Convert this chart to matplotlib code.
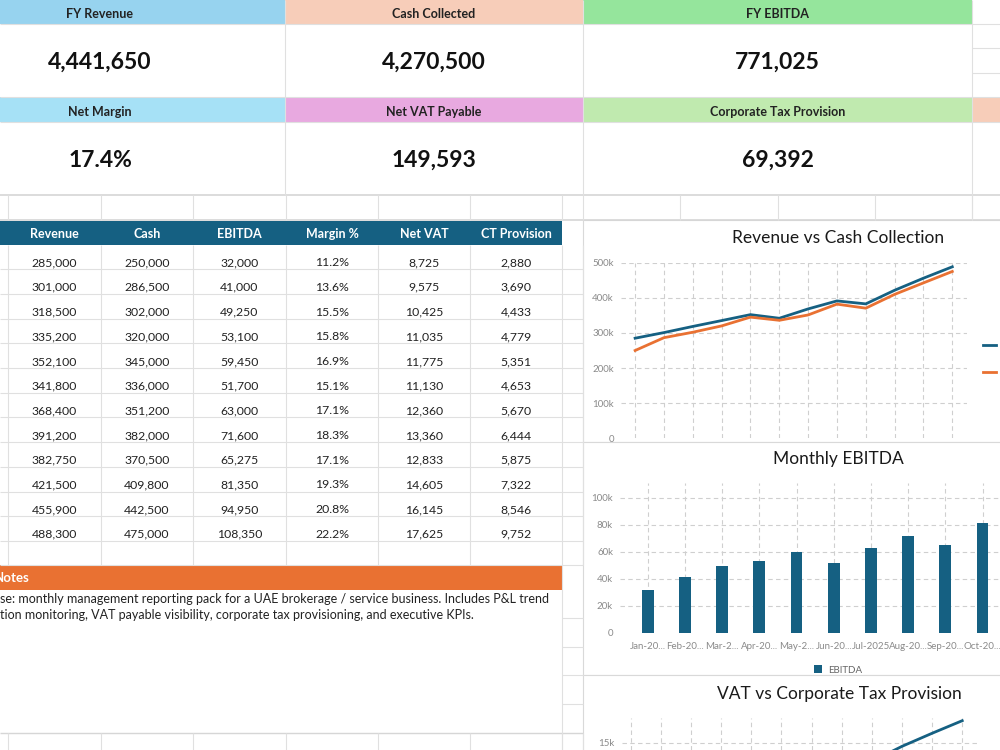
import matplotlib.pyplot as plt
from matplotlib.patches import Rectangle, Patch

plt.rcParams['font.family'] = ['Lato', 'DejaVu Sans']

# ---- data ----
months = ['Jan-2025', 'Feb-2025', 'Mar-2025', 'Apr-2025', 'May-2025', 'Jun-2025',
          'Jul-2025', 'Aug-2025', 'Sep-2025', 'Oct-2025', 'Nov-2025', 'Dec-2025']
month_labels = ['Jan-20...', 'Feb-20...', 'Mar-2...', 'Apr-20...', 'May-2...', 'Jun-20...',
                'Jul-2025', 'Aug-20...', 'Sep-20...', 'Oct-20...', 'Nov-20...', 'Dec-20...']
revenue = [285000, 301000, 318500, 335200, 352100, 341800, 368400, 391200, 382750, 421500, 455900, 488300]
cash = [250000, 286500, 302000, 320000, 345000, 336000, 351200, 382000, 370500, 409800, 442500, 475000]
ebitda = [32000, 41000, 49250, 53100, 59450, 51700, 63000, 71600, 65275, 81350, 94950, 108350]
margin_pct = [11.2, 13.6, 15.5, 15.8, 16.9, 15.1, 17.1, 18.3, 17.1, 19.3, 20.8, 22.2]
net_vat = [8725, 9575, 10425, 11035, 11775, 11130, 12360, 13360, 12833, 14605, 16145, 17625]
ct_provision = [2880, 3690, 4433, 4779, 5351, 4653, 5670, 6444, 5875, 7322, 8546, 9752]

kpi_labels_1 = ['FY Revenue', 'Cash Collected', 'FY EBITDA']
kpi_values_1 = ['4,441,650', '4,270,500', '771,025']
kpi_labels_2 = ['Net Margin', 'Net VAT Payable', 'Corporate Tax Provision']
kpi_values_2 = ['17.4%', '149,593', '69,392']
table_headers = ['Revenue', 'Cash', 'EBITDA', 'Margin %', 'Net VAT', 'CT Provision']
notes_lines = ['se: monthly management reporting pack for a UAE brokerage / service business. Includes P&L trend',
               'tion monitoring, VAT payable visibility, corporate tax provisioning, and executive KPIs.']

W, H = 1000, 750
BLUE = '#156082'
ORANGE = '#E97132'
GRID = '#E0E0E0'
DASH = '#CFCFCF'
TICK = '#8A8A8A'
TXT = '#222222'

fig = plt.figure(figsize=(10, 7.5), dpi=100)
bg = fig.add_axes([0, 0, 1, 1])
bg.set_xlim(0, W)
bg.set_ylim(H, 0)
bg.axis('off')


def box(x0, y0, x1, y1, **kw):
    bg.add_patch(Rectangle((x0, y0), x1 - x0, y1 - y0, **kw))


def px_axes(x0, y0, x1, y1):
    return fig.add_axes([x0 / W, 1 - y1 / H, (x1 - x0) / W, (y1 - y0) / H])


# ---- KPI blocks ----
blocks = [(-85, 285), (285, 583), (583, 972)]
top_colors = ['#97D3EF', '#F7CDB9', '#95E59C']
bot_colors = ['#A6E1F6', '#E8A9E0', '#C0EAAF']
for (x0, x1), c1, c2, l1, v1, l2, v2 in zip(blocks, top_colors, bot_colors,
                                             kpi_labels_1, kpi_values_1, kpi_labels_2, kpi_values_2):
    cx = (x0 + x1) / 2
    box(x0, 0, x1, 24, fc=c1, ec='none')
    box(x0, 97, x1, 122, fc=c2, ec='none')
    bg.text(cx, 13.5, l1, ha='center', va='center', fontsize=9, fontweight='bold', color=TXT)
    bg.text(cx, 62.5, v1, ha='center', va='center', fontsize=16.5, fontweight='bold', color='#111111')
    bg.text(cx, 111.5, l2, ha='center', va='center', fontsize=9, fontweight='bold', color=TXT)
    bg.text(cx, 160.5, v2, ha='center', va='center', fontsize=16.5, fontweight='bold', color='#111111')
box(972, 97, 1000, 122, fc='#F7CDB9', ec='none')

# sheet grid around the KPI area
bg.hlines([24, 97, 122], 0, W, color=GRID, lw=0.8)
bg.hlines([195, 220], 0, W, color='#D6D6D6', lw=1.2)
bg.hlines([48, 72.7], 972, W, color=GRID, lw=0.8)
bg.vlines([285, 583], 0, 195, color=GRID, lw=0.8)
bg.vlines([972], 0, 220, color=GRID, lw=0.8)
bg.vlines([8, 101, 193, 286, 378, 470, 562, 583, 680, 778, 875, 972], 195, 220, color=GRID, lw=0.8)

# ---- monthly table ----
col_edges = [8, 101, 193, 286, 378, 470, 562]
col_centers = [(a + b) / 2 for a, b in zip(col_edges[:-1], col_edges[1:])]
row_top, row_h = 244.5, 24.7
box(0, 221, 562, 245, fc=BLUE, ec='none')
for cx, name in zip(col_centers, table_headers):
    bg.text(cx, 234, name, ha='center', va='center', fontsize=9, fontweight='bold', color='white')

bg.hlines([row_top + (i + 1) * row_h for i in range(len(months))], 0, 583, color=GRID, lw=0.8)
bg.hlines([565], 0, 583, color=GRID, lw=0.8)
bg.vlines(col_edges + [583], 245, 565, color=GRID, lw=0.8)
for i in range(len(months)):
    y = row_top + (i + 1) * row_h - 6.5
    cells = [f'{revenue[i]:,}', f'{cash[i]:,}', f'{ebitda[i]:,}', f'{margin_pct[i]:.1f}%',
             f'{net_vat[i]:,}', f'{ct_provision[i]:,}']
    for cx, s in zip(col_centers, cells):
        bg.text(cx, y, s, ha='center', va='center', fontsize=8.8, color=TXT)

# ---- notes ----
box(0, 565, 562, 589.5, fc=ORANGE, ec='none')
bg.text(-6, 578, 'Notes', ha='left', va='center', fontsize=9.5, fontweight='bold', color='white')
for k, line in enumerate(notes_lines):
    bg.text(0.5, 599 + k * 16, line, ha='left', va='center', fontsize=9, color=TXT)
bg.hlines([733], 0, 583, color='#D6D6D6', lw=1.0)
bg.hlines([618.3, 646.7, 675, 704.3], 562, 583, color=GRID, lw=0.8)
bg.vlines([562], 565, 750, color=GRID, lw=0.8)
bg.vlines(col_edges + [583], 733, 750, color=GRID, lw=0.8)

# ---- chart frames ----
for y0, y1 in [(220, 442), (442, 675), (675, 760)]:
    box(583, y0, 1010, y1, fc='white', ec='#D9D9D9', lw=0.8)


def style_chart(ax, yticks):
    ax.set_facecolor('none')
    for s in ax.spines.values():
        s.set_visible(False)
    ax.set_yticks(yticks)
    ax.set_yticklabels(['0' if v == 0 else f'{int(v / 1000)}k' for v in yticks])
    ax.tick_params(length=0, labelsize=7, labelcolor=TICK, pad=5)
    ax.grid(True, color=DASH, lw=0.8, linestyle=(0, (4, 3)))
    ax.set_axisbelow(True)
    for v, gl in zip(yticks, ax.get_ygridlines()):
        if v == 0:
            gl.set_visible(False)


x = list(range(len(months)))

# Revenue vs Cash Collection
ax1 = px_axes(620.7, 262.7, 966.7, 438.3)
ax1.plot(x, revenue, color=BLUE, lw=2)
ax1.plot(x, cash, color=ORANGE, lw=2)
ax1.set_xticks(x)
ax1.set_xticklabels([])
style_chart(ax1, [0, 100000, 200000, 300000, 400000, 500000])
ax1.set_xlim(-0.5, 11.5)
ax1.set_ylim(0, 500000)
bg.text(838, 238, 'Revenue vs Cash Collection', ha='center', va='center', fontsize=12.5, color='#1a1a1a')
bg.plot([983, 996], [345, 345], color=BLUE, lw=2)
bg.plot([983, 996], [371.7, 371.7], color=ORANGE, lw=2)

# Monthly EBITDA (chart runs past the right edge of the window)
ax2 = px_axes(620, 483, 1000, 632.7)
ax2.bar(x, ebitda, width=0.32, color=BLUE)
x2_max = 9.47
shown = [i for i in x if i <= x2_max]
ax2.set_xticks(shown)
ax2.set_xticklabels([month_labels[i] for i in shown])
style_chart(ax2, [0, 20000, 40000, 60000, 80000, 100000])
ax2.tick_params(axis='x', pad=7)
ax2.set_xlim(-0.745, x2_max)
ax2.set_ylim(0, 110900)
bg.text(838, 459, 'Monthly EBITDA', ha='center', va='center', fontsize=12.5, color='#1a1a1a')
ax2.legend(handles=[Patch(facecolor=BLUE, label='EBITDA')], loc='center',
           bbox_to_anchor=(838 / W, 1 - 670 / H), bbox_transform=fig.transFigure,
           frameon=False, fontsize=7, labelcolor='#666666',
           handlelength=0.9, handleheight=0.9, handletextpad=0.6)

# VAT vs Corporate Tax Provision (only the top of it is visible)
ax3 = px_axes(621.7, 718, 976.7, 750)
ax3.plot(x, net_vat, color=BLUE, lw=2)
ax3.plot(x, ct_provision, color=ORANGE, lw=2)
ax3.set_xticks(x)
ax3.set_xticklabels([])
style_chart(ax3, [0, 5000, 10000, 15000])
ax3.set_xlim(-0.3, 11.48)
ax3.set_ylim(14176, 17941)
bg.text(839, 694, 'VAT vs Corporate Tax Provision', ha='center', va='center', fontsize=12.5, color='#1a1a1a')

fig.savefig('out.png', dpi=100)
